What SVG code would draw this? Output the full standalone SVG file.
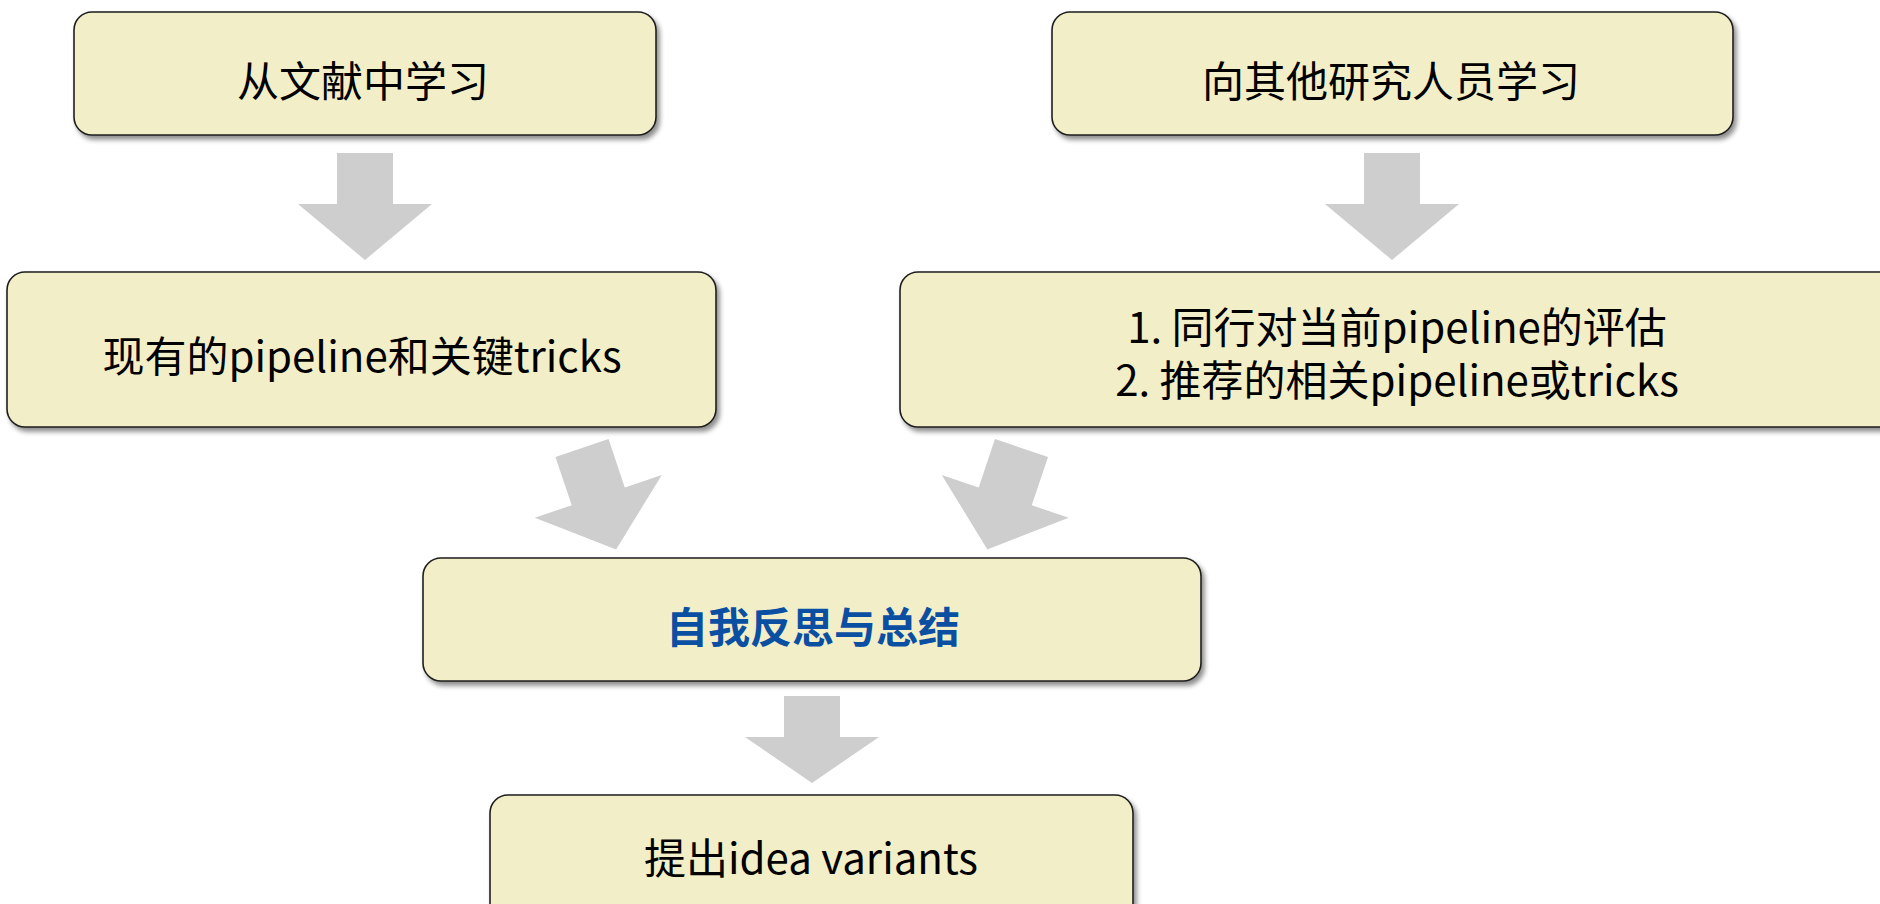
<svg xmlns="http://www.w3.org/2000/svg" width="1880" height="904" viewBox="0 0 1880 904">
  <defs>
    <filter id="shadow" x="-5%" y="-10%" width="115%" height="130%">
      <feGaussianBlur in="SourceAlpha" stdDeviation="2.5"/>
      <feOffset dx="3" dy="4" result="blur"/>
      <feComponentTransfer><feFuncA type="linear" slope="0.45"/></feComponentTransfer>
      <feMerge><feMergeNode/><feMergeNode in="SourceGraphic"/></feMerge>
    </filter>
    <!-- block arrow pointing down; origin at the middle of its tail -->
    <polygon id="arrow" points="-28,0 28,0 28,51 67,51 0,107 -67,51 -28,51"/>
    <polygon id="arrow-short" points="-28,0 28,0 28,41 67,41 0,87 -67,41 -28,41"/>
  </defs>
  <style>
    .box { fill: #f2efc8; stroke: #1e1e1e; stroke-width: 1.6; filter: url(#shadow); }
    .label { font-family: "Noto Sans CJK SC", "Microsoft YaHei", sans-serif; font-size: 42px; fill: #000; text-anchor: middle; }
    .key { font-weight: bold; fill: #0b4fa3; }
    .conn { fill: #cfcecf; }
  </style>
  <rect width="1880" height="904" fill="#ffffff"/>

  <g id="connectors">
    <use href="#arrow" class="conn" transform="translate(365,153)"/>
    <use href="#arrow" class="conn" transform="translate(1392,153)"/>
    <use href="#arrow" class="conn" transform="translate(582,448) rotate(-18.6)"/>
    <use href="#arrow" class="conn" transform="translate(1021.5,448) rotate(18.6)"/>
    <use href="#arrow-short" class="conn" transform="translate(812,696)"/>
  </g>

  <g id="node-literature">
    <rect class="box" x="74" y="12" width="582" height="123" rx="18"/>
    <text class="label" x="363" y="97">从文献中学习</text>
  </g>

  <g id="node-peers">
    <rect class="box" x="1052" y="12" width="681" height="123" rx="18"/>
    <text class="label" x="1391" y="97">向其他研究人员学习</text>
  </g>

  <g id="node-pipelines">
    <rect class="box" x="7" y="272" width="709" height="155" rx="18"/>
    <text class="label" x="362" y="372">现有的pipeline和关键tricks</text>
  </g>

  <g id="node-feedback">
    <rect class="box" x="900" y="272" width="1000" height="155" rx="18"/>
    <text class="label" x="1397" y="343">1. 同行对当前pipeline的评估</text>
    <text class="label" x="1397" y="396">2. 推荐的相关pipeline或tricks</text>
  </g>

  <g id="node-reflect">
    <rect class="box" x="423" y="558" width="778" height="123" rx="18"/>
    <text class="label key" x="813" y="643">自我反思与总结</text>
  </g>

  <g id="node-ideas">
    <rect class="box" x="490" y="795" width="643" height="130" rx="18"/>
    <text class="label" x="811" y="874">提出idea variants</text>
  </g>
</svg>
